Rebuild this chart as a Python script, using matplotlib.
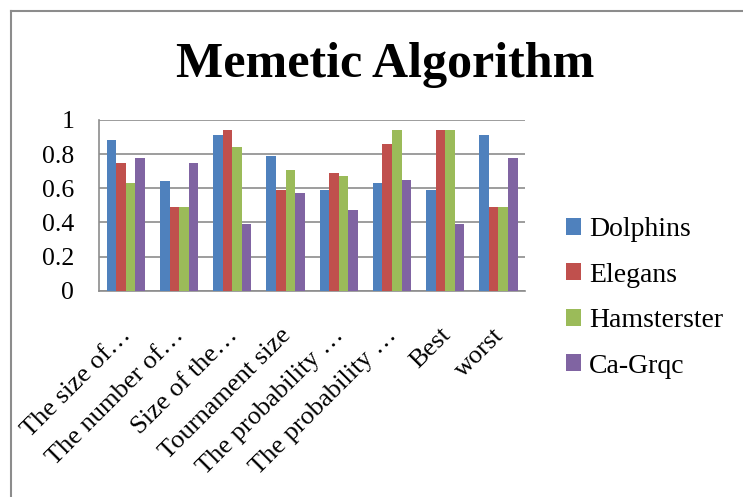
import numpy as np
import matplotlib.pyplot as plt
from matplotlib.lines import Line2D
from matplotlib.transforms import ScaledTranslation

# Data
categories = ['The size of\u2026', 'The number of\u2026', 'Size of the\u2026', 'Tournament size',
              'The probability \u2026', 'The probability \u2026', 'Best', 'worst']
dolphins = [0.88, 0.64, 0.91, 0.79, 0.59, 0.63, 0.59, 0.91]
elegans = [0.75, 0.49, 0.94, 0.59, 0.69, 0.86, 0.94, 0.49]
hamsterster = [0.63, 0.49, 0.84, 0.71, 0.67, 0.94, 0.94, 0.49]
cagrqc = [0.78, 0.75, 0.39, 0.57, 0.47, 0.65, 0.39, 0.78]
series_names = ['Dolphins', 'Elegans', 'Hamsterster', 'Ca-Grqc']
colors = ['#4F81BD', '#C0504D', '#9BBB59', '#8064A2']

plt.rcParams['font.family'] = ['Liberation Serif', 'DejaVu Serif']

W, H = 743, 497
fig = plt.figure(figsize=(W / 100, H / 100), dpi=100)
ax = fig.add_axes([99.3 / W, 1 - 290.7 / H, (525 - 99.3) / W, (290.7 - 120) / H])

x = np.arange(len(categories))
bw = 0.18
all_series = [dolphins, elegans, hamsterster, cagrqc]
for i, (vals, name, c) in enumerate(zip(all_series, series_names, colors)):
    ax.bar(x + (i - 1.5) * bw, vals, bw, color=c, label=name, zorder=3)

ax.set_xlim(-0.5, len(categories) - 0.5)
ax.set_ylim(0, 1)
ax.set_yticks([0, 0.2, 0.4, 0.6, 0.8, 1])
ax.set_yticklabels(['0', '0.2', '0.4', '0.6', '0.8', '1'], fontsize=18.5)
ax.set_xticks(x)
ax.set_xticklabels(categories, rotation=45, ha='right', rotation_mode='anchor', fontsize=19)
ax.tick_params(axis='y', length=0, pad=18)
ax.tick_params(axis='x', length=0, pad=24)
# nudge the rotated labels a little to the left, like the original
shift = ScaledTranslation(-6 / 100, 0, fig.dpi_scale_trans)
for lab in ax.get_xticklabels():
    lab.set_transform(lab.get_transform() + shift)

ax.grid(axis='y', color='#8c8c8c', linewidth=1.2, zorder=0)
for s in ['top', 'right']:
    ax.spines[s].set_visible(False)
for s in ['left', 'bottom']:
    ax.spines[s].set_color('#8c8c8c')
    ax.spines[s].set_linewidth(1.2)

fig.text(385 / W, 1 - 77 / H, 'Memetic Algorithm', ha='center', va='baseline',
         fontsize=36, fontweight='bold')

ax.legend(loc='upper left', bbox_to_anchor=(566 / W, 1 - 217 / H), bbox_transform=fig.transFigure,
          frameon=False, fontsize=20, borderpad=0, borderaxespad=0,
          handlelength=0.55, handleheight=0.55, handletextpad=0.27, labelspacing=0.74)

# chart border (cropped on right and bottom)
fig.add_artist(Line2D([11 / W, 11 / W], [0, 1 - 11 / H], transform=fig.transFigure,
                      color='#8c8c8c', linewidth=1.5))
fig.add_artist(Line2D([11 / W, 1], [1 - 11 / H, 1 - 11 / H], transform=fig.transFigure,
                      color='#8c8c8c', linewidth=1.5))

fig.savefig('out.png', dpi=100)
